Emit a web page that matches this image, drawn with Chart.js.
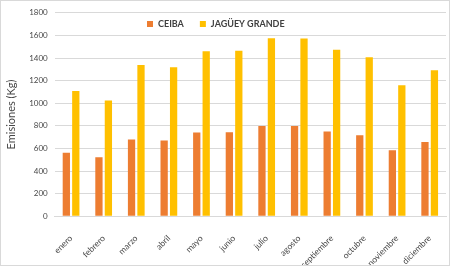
<!DOCTYPE html>
<html>
<head>
<meta charset="utf-8">
<script src="https://cdn.jsdelivr.net/npm/chart.js@4/dist/chart.umd.min.js"></script>
<style>
    html, body { margin: 0; padding: 0; background: #fff; }
    #wrap { width: 450px; height: 266px; box-sizing: border-box; border: 1px solid #d9d9d9; overflow: hidden; }
    canvas { display: block; }
</style>
</head>
<body>
<div id="wrap"><canvas id="emisionesChart" width="448" height="278"></canvas></div>
<script>
const meses = ['enero', 'febrero', 'marzo', 'abril', 'mayo', 'junio', 'julio', 'agosto', 'septiembre', 'octubre', 'noviembre', 'diciembre'];
const ceiba = [562, 522, 678, 670, 740, 744, 798, 798, 750, 716, 585, 657];
const jagueyGrande = [1109, 1025, 1338, 1318, 1460, 1465, 1575, 1573, 1474, 1407, 1158, 1291];

const textColor = '#474747';
const fontFamily = 'Lato, "Open Sans", sans-serif';

// leyenda dibujada dentro del área del gráfico, como en Excel
const legendaInterna = {
    id: 'legendaInterna',
    afterDraw(chart) {
        const ctx = chart.ctx;
        const sets = chart.data.datasets;
        ctx.save();
        ctx.font = 'bold 9px ' + fontFamily;
        ctx.textBaseline = 'middle';
        let x = 146;
        const y = 23;
        sets.forEach(function (ds) {
            ctx.fillStyle = ds.backgroundColor;
            ctx.fillRect(x, y - 3, 6, 6);
            ctx.fillStyle = '#404040';
            ctx.fillText(ds.label, x + 11, y);
            x += 11 + ctx.measureText(ds.label).width + 16;
        });
        ctx.restore();
    }
};

new Chart(document.getElementById('emisionesChart'), {
    type: 'bar',
    data: {
        labels: meses,
        datasets: [
            {
                label: 'CEIBA',
                data: ceiba,
                backgroundColor: '#ED7D31',
            },
            {
                label: 'JAGÜEY GRANDE',
                data: jagueyGrande,
                backgroundColor: '#FFC000',
            },
        ],
    },
    options: {
        responsive: false,
        animation: false,
        categoryPercentage: 0.58,
        barPercentage: 0.77,
        layout: {
            padding: { top: 0, right: 3, bottom: 0, left: 4 },
        },
        plugins: {
            legend: { display: false },
            tooltip: { enabled: false },
        },
        scales: {
            x: {
                grid: { display: false },
                border: { color: '#d9d9d9' },
                ticks: {
                    color: textColor,
                    font: { family: fontFamily, size: 8.5 },
                    minRotation: 45,
                    maxRotation: 45,
                    padding: 9,
                },
            },
            y: {
                min: 0,
                max: 1800,
                grid: { color: '#d9d9d9', drawTicks: false },
                border: { display: false },
                ticks: {
                    stepSize: 200,
                    color: textColor,
                    font: { family: fontFamily, size: 8 },
                    padding: 7,
                    callback: function (v) { return String(v); },
                },
                title: {
                    display: true,
                    text: 'Emisiones (Kg)',
                    color: textColor,
                    font: { family: fontFamily, size: 11 },
                    padding: { top: 0, bottom: 4 },
                },
            },
        },
    },
    plugins: [legendaInterna],
});
</script>
</body>
</html>
